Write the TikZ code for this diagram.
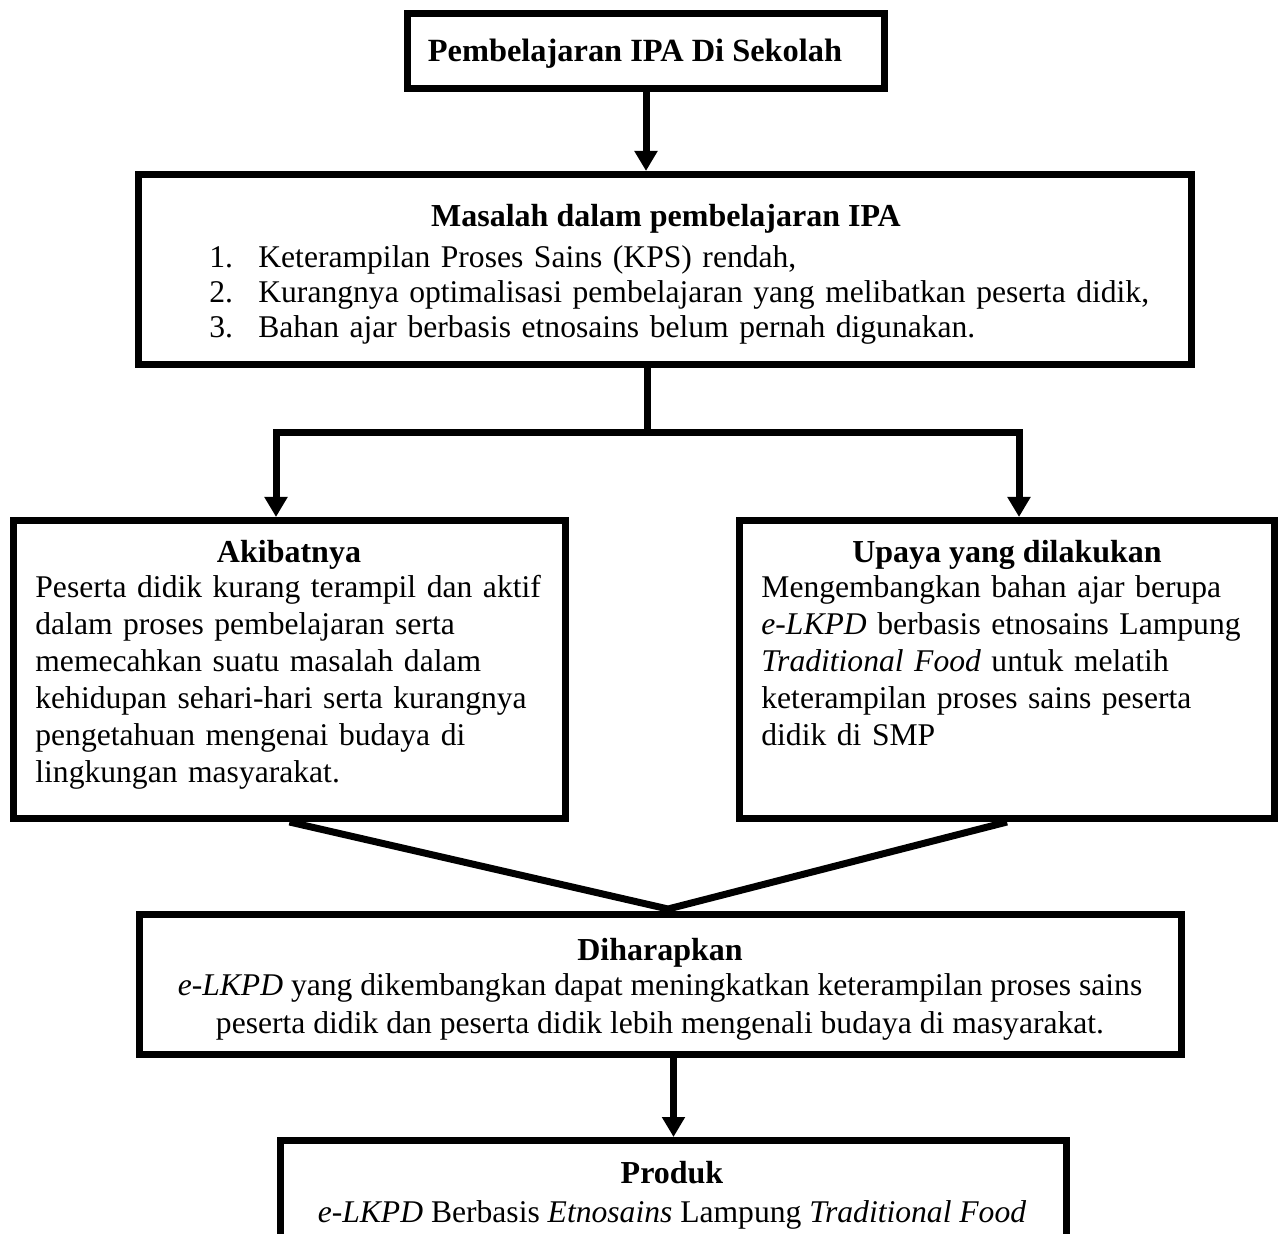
\documentclass[tikz,border=0pt]{standalone}
\usepackage{fontspec}
\setmainfont{Liberation Serif}
\usetikzlibrary{arrows.meta}
\begin{document}
\begin{tikzpicture}[x=0.5pt,y=-0.5pt,
  box/.style={draw,line width=3.5pt,rectangle,inner sep=0pt},
  conn/.style={line width=3.5pt},
  arr/.style={conn,-{Triangle[length=10pt,width=11pt]}},
  ttl/.style={font=\fontsize{16}{18.5}\selectfont\bfseries,anchor=base,inner sep=0pt},
  ctext/.style={font=\fontsize{15.8}{18.5}\selectfont,anchor=base,inner sep=0pt},
  body/.style={font=\fontsize{15.8}{18.5}\selectfont,anchor=base west,inner sep=0pt,align=left,text width=#1},
]
\useasboundingbox (0,0) rectangle (1280,1234);

% boxes
\node[box,minimum width=238.5pt,minimum height=37.5pt] (b1) at (646,51) {};
\node[box,minimum width=526.5pt,minimum height=95pt] (b2) at (665,269.5) {};
\node[box,minimum width=276pt,minimum height=149pt] (a) at (289.5,669.5) {};
\node[box,minimum width=267.5pt,minimum height=149pt] (u) at (1007,669.5) {};
\node[box,minimum width=521pt,minimum height=70pt] (d) at (660.5,984.5) {};
\node[box,minimum width=393pt,minimum height=78pt] (p) at (673.5,1218.5) {};

% texts
\node[ttl,font=\fontsize{16.2}{18.5}\selectfont\bfseries] (t1) at (635,62) {Pembelajaran IPA Di Sekolah};

\node[ttl] (t2) at (666,227) {Masalah dalam pembelajaran IPA};
\node[body=480pt,font=\fontsize{15.8}{17.3}\selectfont] (l2) at (209,268)
  {\makebox[24.5pt][l]{1.}Keterampilan Proses Sains (KPS) rendah,\\
   \makebox[24.5pt][l]{2.}Kurangnya optimalisasi pembelajaran yang melibatkan peserta didik,\\
   \makebox[24.5pt][l]{3.}Bahan ajar berbasis etnosains belum pernah digunakan.};

\node[ttl] (t3) at (289,563) {Akibatnya};
\node[body=265pt] (l3) at (35,598)
  {Peserta didik kurang terampil dan aktif\\
   dalam proses pembelajaran serta\\
   memecahkan suatu masalah dalam\\
   kehidupan sehari-hari serta kurangnya\\
   pengetahuan mengenai budaya di\\
   lingkungan masyarakat.};

\node[ttl] (t4) at (1007,563) {Upaya yang dilakukan};
\node[body=255pt] (l4) at (761,598)
  {Mengembangkan bahan ajar berupa\\
   \textit{e-LKPD} berbasis etnosains Lampung\\
   \textit{Traditional Food} untuk melatih\\
   keterampilan proses sains peserta\\
   didik di SMP};

\node[ttl] (t5) at (660,960) {Diharapkan};
\node[ctext] (l5a) at (660,995) {\textit{e-LKPD} yang dikembangkan dapat meningkatkan keterampilan proses sains};
\node[ctext] (l5b) at (660,1033) {peserta didik dan peserta didik lebih mengenali budaya di masyarakat.};

\node[ttl] (t6) at (672,1183) {Produk};
\node[ctext] (l6) at (672,1222) {\textit{e-LKPD} Berbasis \textit{Etnosains} Lampung \textit{Traditional Food}};

% connectors
\draw[arr] (b1.south) -- (b1.south |- b2.north);
\coordinate (split) at (647,433);
\coordinate (jl) at (276,433);
\coordinate (jr) at (1019,433);
\draw[conn] (split |- b2.south) -- (split);
\draw[arr] (split) -- (jl) -- (jl |- a.north);
\draw[arr] (split) -- (jr) -- (jr |- u.north);
\coordinate (vm) at (668,909);
\draw[conn] (a.south) -- (vm) -- (u.south);
\draw[arr] (p.north |- d.south) -- (p.north);
\end{tikzpicture}
\end{document}
